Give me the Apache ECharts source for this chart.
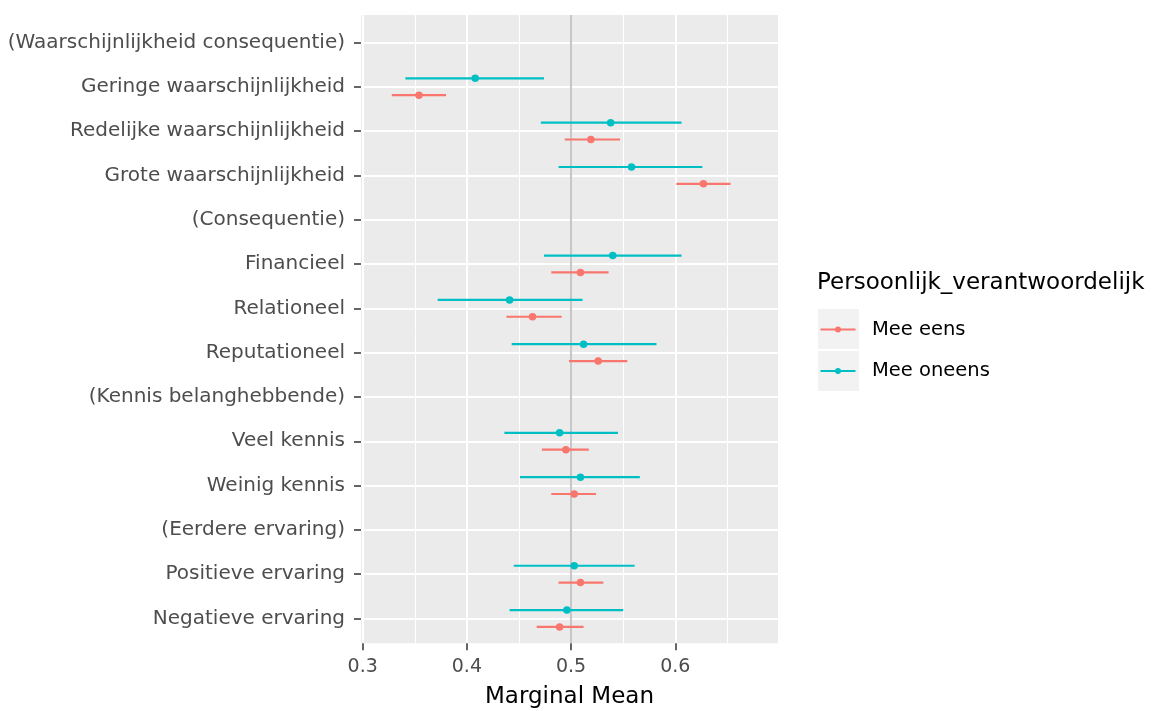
<!DOCTYPE html>
<html><head><meta charset="utf-8">
<script src="https://cdn.jsdelivr.net/npm/echarts@6/dist/echarts.min.js"></script>
<style>html,body{margin:0;padding:0;background:#fff;} #c{width:1156px;height:711px;}</style>
</head><body><div id="c"></div>
<script>
const categories = ["(Waarschijnlijkheid consequentie)", "Geringe waarschijnlijkheid", "Redelijke waarschijnlijkheid", "Grote waarschijnlijkheid", "(Consequentie)", "Financieel", "Relationeel", "Reputationeel", "(Kennis belanghebbende)", "Veel kennis", "Weinig kennis", "(Eerdere ervaring)", "Positieve ervaring", "Negatieve ervaring"];
const groups = ["Mee eens", "Mee oneens"];
// Mee eens
const eensMean = [null, 0.354, 0.519, 0.627, null, 0.509, 0.463, 0.526, null, 0.495, 0.503, null, 0.509, 0.489];
const eensLow  = [null, 0.328, 0.494, 0.601, null, 0.481, 0.438, 0.498, null, 0.472, 0.481, null, 0.488, 0.467];
const eensHigh = [null, 0.380, 0.547, 0.653, null, 0.536, 0.491, 0.554, null, 0.517, 0.524, null, 0.531, 0.512];
// Mee oneens
const oneensMean = [null, 0.408, 0.538, 0.558, null, 0.540, 0.441, 0.512, null, 0.489, 0.509, null, 0.503, 0.496];
const oneensLow  = [null, 0.341, 0.471, 0.488, null, 0.474, 0.372, 0.443, null, 0.436, 0.451, null, 0.445, 0.441];
const oneensHigh = [null, 0.474, 0.606, 0.626, null, 0.606, 0.511, 0.582, null, 0.545, 0.566, null, 0.561, 0.550];
const xTicks = [0.3, 0.4, 0.5, 0.6];
const xMinor = [0.35, 0.45, 0.55, 0.65];
const refLine = 0.5;

const COLORS = ['#F8766D', '#00BFC4'];
const DODGE = 0.19;
const catIdx = categories.map((c, i) => i);
const FONT = 'DejaVu Sans';

function barData(low, high) {
  return catIdx.filter(i => low[i] != null).map(i => [low[i], high[i], i]);
}
function pointData(mean, off) {
  return catIdx.filter(i => mean[i] != null).map(i => [mean[i], i + off]);
}
function makeBars(off) {
  return function (params, api) {
    const y = api.value(2) + off;
    const p1 = api.coord([api.value(0), y]);
    const p2 = api.coord([api.value(1), y]);
    return { type: 'line', shape: { x1: p1[0], y1: p1[1], x2: p2[0], y2: p2[1] },
      style: { stroke: api.visual('color'), lineWidth: 2.2 } };
  };
}
const iconPath = 'path://M0,2 L35,2 L35,4 L0,4 Z M20.5,3 A3,3 0 1,1 14.5,3 A3,3 0 1,1 20.5,3 Z';

const chart = echarts.init(document.getElementById('c'), null, { renderer: 'canvas' });
chart.setOption({
  animation: false,
  backgroundColor: '#fff',
  title: { text: 'Persoonlijk_verantwoordelijk', left: 817, top: 272, padding: 0,
    textStyle: { fontFamily: FONT, fontSize: 23, fontWeight: 'normal', color: '#000' } },
  grid: { left: 361, top: 15, width: 417, height: 628.3, show: true, backgroundColor: '#EBEBEB', borderWidth: 0,
    containLabel: false, outerBoundsMode: 'none' },
  graphic: [
    { type: 'rect', left: 818, top: 309, shape: { width: 41, height: 40 }, style: { fill: '#F2F2F2' }, z: -1 },
    { type: 'rect', left: 818, top: 351, shape: { width: 41, height: 40 }, style: { fill: '#F2F2F2' }, z: -1 }
  ],
  legend: {
    orient: 'vertical', left: 820.5, top: 309.5, padding: 0, itemWidth: 35, itemHeight: 6, itemGap: 1.5,
    selectedMode: false,
    data: groups.map(g => ({ name: g, icon: iconPath })),
    textStyle: { fontFamily: FONT, fontSize: 19.5, color: '#000', lineHeight: 40, padding: [0, 0, 0, 11.5] }
  },
  xAxis: {
    type: 'value', min: 0.2984, max: 0.6986,
    name: 'Marginal Mean', nameLocation: 'middle', nameGap: 42,
    nameTextStyle: { fontFamily: FONT, fontSize: 23, color: '#000' },
    axisLine: { show: false, onZero: false },
    axisTick: { show: true, length: 7, lineStyle: { color: '#333', width: 1.5 }, customValues: xTicks },
    axisLabel: { customValues: xTicks, formatter: v => v.toFixed(1), margin: 14,
      fontFamily: FONT, fontSize: 19, color: '#4D4D4D' },
    splitLine: { show: true, lineStyle: { color: '#fff', width: 2 } }
  },
  yAxis: {
    type: 'value', inverse: true, min: -0.62, max: 13.56,
    axisLine: { show: false, onZero: false },
    axisTick: { show: true, length: 7, lineStyle: { color: '#333', width: 1.5 }, customValues: catIdx },
    axisLabel: { customValues: catIdx, formatter: v => categories[Math.round(v)], margin: 16,
      padding: [5, 0, 0, 0], fontFamily: FONT, fontSize: 20, color: '#4D4D4D' },
    splitLine: { show: true, lineStyle: { color: '#fff', width: 2 } }
  },
  series: [
    { type: 'scatter', name: '_ref', data: [], z: 1, silent: true,
      markLine: { symbol: 'none', silent: true, animation: false, z: 1, label: { show: false },
        data: xMinor.map(v => ({ xAxis: v, lineStyle: { color: '#fff', width: 1, type: 'solid' } }))
          .concat([{ xAxis: refLine, lineStyle: { color: '#B5B5B5', width: 1.5, type: 'solid' } }]) } },
    { type: 'custom', name: groups[0], data: barData(eensLow, eensHigh), renderItem: makeBars(DODGE),
      encode: { x: [0, 1], y: 2 }, itemStyle: { color: COLORS[0] }, z: 3 },
    { type: 'custom', name: groups[1], data: barData(oneensLow, oneensHigh), renderItem: makeBars(-DODGE),
      encode: { x: [0, 1], y: 2 }, itemStyle: { color: COLORS[1] }, z: 3 },
    { type: 'scatter', name: groups[0], data: pointData(eensMean, DODGE), symbolSize: 7.5,
      itemStyle: { color: COLORS[0], opacity: 1 }, z: 4 },
    { type: 'scatter', name: groups[1], data: pointData(oneensMean, -DODGE), symbolSize: 7.5,
      itemStyle: { color: COLORS[1], opacity: 1 }, z: 4 }
  ]
});
</script></body></html>
